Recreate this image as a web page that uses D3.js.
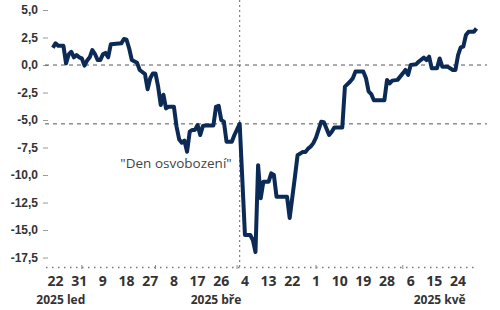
<!DOCTYPE html>
<html>
<head>
<meta charset="utf-8">
<script src="https://cdn.jsdelivr.net/npm/d3@7"></script>
<style>
  body { margin: 0; background: #fff; }
  svg { font-family: "Open Sans", "Noto Sans", sans-serif; }
</style>
</head>
<body>
<svg id="chart" width="500" height="310"></svg>
<script>
// series (% change)
const dates = [
  "2025-01-21","2025-01-22","2025-01-23","2025-01-25","2025-01-26","2025-01-27","2025-01-28","2025-01-29","2025-01-30","2025-01-31",
  "2025-02-01","2025-02-02","2025-02-03","2025-02-04","2025-02-05","2025-02-06","2025-02-07","2025-02-08","2025-02-09","2025-02-10",
  "2025-02-11","2025-02-12","2025-02-16","2025-02-17","2025-02-18","2025-02-19","2025-02-20","2025-02-22","2025-02-23","2025-02-25",
  "2025-02-26","2025-02-27","2025-02-28","2025-03-01","2025-03-02","2025-03-03","2025-03-04","2025-03-05","2025-03-06","2025-03-08",
  "2025-03-09","2025-03-10","2025-03-11","2025-03-12","2025-03-13","2025-03-14","2025-03-15","2025-03-16","2025-03-17","2025-03-18",
  "2025-03-19","2025-03-20","2025-03-23","2025-03-24","2025-03-25","2025-03-26","2025-03-27","2025-03-28","2025-03-30","2025-03-31",
  "2025-04-02","2025-04-04","2025-04-06","2025-04-07","2025-04-08","2025-04-09","2025-04-10","2025-04-11","2025-04-13","2025-04-14",
  "2025-04-15","2025-04-16","2025-04-20","2025-04-21","2025-04-23","2025-04-24","2025-04-26","2025-04-27","2025-04-28","2025-04-29",
  "2025-04-30","2025-05-01","2025-05-03","2025-05-04","2025-05-06","2025-05-07","2025-05-08","2025-05-11","2025-05-12","2025-05-14",
  "2025-05-15","2025-05-16","2025-05-19","2025-05-20","2025-05-21","2025-05-22","2025-05-23","2025-05-27","2025-05-28","2025-05-29",
  "2025-05-30","2025-06-01","2025-06-03","2025-06-04","2025-06-05","2025-06-06","2025-06-08","2025-06-09","2025-06-11","2025-06-12",
  "2025-06-13","2025-06-14","2025-06-16","2025-06-17","2025-06-18","2025-06-20","2025-06-22","2025-06-23","2025-06-24","2025-06-25",
  "2025-06-26","2025-06-27","2025-06-28","2025-06-30","2025-07-01"
];
const values = [
  1.57, 1.97, 1.75, 1.75, 0.15, 0.97, 1.2, 0.7, 0.9, 0.7,
  0.6, -0.06, 0.4, 0.7, 1.36, 1.0, 0.45, 0.45, 0.97, 1.1,
  0.7, 1.88, 1.97, 2.36, 2.3, 1.5, 0.45, 0.2, -0.45, -0.82,
  -2.2, -1.2, -0.76, -0.76, -1.97, -3.64, -2.7, -3.94, -3.8, -3.8,
  -5.6, -6.76, -7.06, -6.88, -7.88, -6.06, -5.9, -5.9, -5.45, -6.36,
  -5.55, -5.5, -5.5, -3.8, -3.7, -5.0, -5.15, -6.97, -6.97, -6.36,
  -5.35, -15.45, -15.45, -15.9, -17.0, -9.1, -12.1, -10.6, -10.6, -9.85,
  -10.0, -11.97, -11.97, -13.9, -10.15, -8.2, -7.9, -7.9, -7.6, -7.4,
  -7.1, -6.6, -5.15, -5.2, -6.36, -6.06, -5.67, -5.67, -1.97, -1.5,
  -1.2, -0.6, -0.6, -1.2, -2.4, -2.64, -3.2, -3.2, -1.36, -1.67,
  -1.42, -1.35, -0.76, -0.45, -0.9, 0.0, 0.06, 0.3, 0.67, 0.45,
  0.76, -0.3, -0.3, 0.6, -0.15, -0.15, -0.45, -0.45, 0.9, 1.6,
  1.67, 2.73, 3.03, 3.03, 3.33
];

const yTicks = [5, 2.5, 0, -2.5, -5, -7.5, -10, -12.5, -15, -17.5];
const xTickDates = ["2025-01-22","2025-01-31","2025-02-09","2025-02-18","2025-02-27","2025-03-08","2025-03-17","2025-03-26",
  "2025-04-04","2025-04-13","2025-04-22","2025-05-01","2025-05-10","2025-05-19","2025-05-28","2025-06-06","2025-06-15","2025-06-24"];
const monthMarks = ["2025-02-01","2025-03-01","2025-04-01","2025-05-01","2025-06-03"];
const groupLabels = ["2025 led", "2025 bře", "2025 kvě"];
const groupDates = ["2025-01-24", "2025-03-24", "2025-06-17"];

const eventDate = "2025-04-02";
const eventLabel = "\"Den osvobození\"";
const eventLevel = -5.35;

const parse = d3.timeParse("%Y-%m-%d");
const data = dates.map((d, i) => ({date: parse(d), value: values[i]}));

const svg = d3.select("#chart");
const x = d3.scaleTime()
    .domain([parse("2025-01-18"), parse("2025-07-05")])
    .range([45, 487]);
const y = d3.scaleLinear()
    .domain([-18.36, 5.91])
    .range([267, 0]);

const czFormat = d3.formatLocale({decimal: ",", thousands: " ", grouping: [3], currency: ["", " Kč"], minus: "-"}).format(".1f");

// y axis labels
const yAxis = svg.append("g")
    .attr("transform", "translate(48,0)")
    .call(d3.axisLeft(y).tickValues(yTicks).tickFormat(czFormat).tickSize(5).tickPadding(5));
yAxis.select(".domain").remove();
yAxis.selectAll(".tick line").attr("stroke", "#999");
yAxis.selectAll(".tick text")
    .attr("fill", "#333")
    .style("font-size", "12px")
    .style("font-weight", "700");

// reference lines
svg.append("line")
    .attr("x1", 45).attr("x2", 487)
    .attr("y1", y(0)).attr("y2", y(0))
    .attr("stroke", "#555").attr("stroke-dasharray", "4,4");
svg.append("line")
    .attr("x1", 45).attr("x2", 487)
    .attr("y1", y(eventLevel)).attr("y2", y(eventLevel))
    .attr("stroke", "#555").attr("stroke-dasharray", "4,4");
svg.append("line")
    .attr("x1", x(parse(eventDate))).attr("x2", x(parse(eventDate)))
    .attr("y1", 0).attr("y2", 267)
    .attr("stroke", "#666").attr("stroke-dasharray", "2,3");

// x axis: dotted baseline + month marks
svg.append("line")
    .attr("x1", 46).attr("x2", 478)
    .attr("y1", 267.5).attr("y2", 267.5)
    .attr("stroke", "#777").attr("stroke-width", 1.5)
    .attr("stroke-dasharray", "1.5,4.5");
svg.selectAll(".mmark")
    .data(monthMarks)
    .enter()
    .append("line")
    .attr("class", "mmark")
    .attr("x1", d => x(parse(d))).attr("x2", d => x(parse(d)))
    .attr("y1", 265).attr("y2", 269)
    .attr("stroke", "#888");

svg.selectAll(".xlab")
    .data(xTickDates)
    .enter()
    .append("text")
    .attr("class", "xlab")
    .attr("x", d => x(parse(d)))
    .attr("y", 286)
    .attr("text-anchor", "middle")
    .attr("fill", "#333")
    .style("font-size", "14px")
    .style("font-weight", "700")
    .text(d => +d.slice(8));

svg.selectAll(".glab")
    .data(groupLabels)
    .enter()
    .append("text")
    .attr("class", "glab")
    .attr("x", (d, i) => x(parse(groupDates[i])))
    .attr("y", 304)
    .attr("text-anchor", "middle")
    .attr("fill", "#333")
    .style("font-size", "12px")
    .style("font-weight", "700")
    .text(d => d);

// annotation
svg.append("text")
    .attr("x", x(parse(eventDate)) - 8)
    .attr("y", y(-9.4))
    .attr("text-anchor", "end")
    .attr("fill", "#444")
    .style("font-size", "13.5px")
    .text(eventLabel);

// the line
const line = d3.line()
    .x(d => x(d.date))
    .y(d => y(d.value));
svg.append("path")
    .datum(data)
    .attr("fill", "none")
    .attr("stroke", "#0b2a55")
    .attr("stroke-width", 4)
    .attr("stroke-linejoin", "round")
    .attr("d", line);
</script>
</body>
</html>
